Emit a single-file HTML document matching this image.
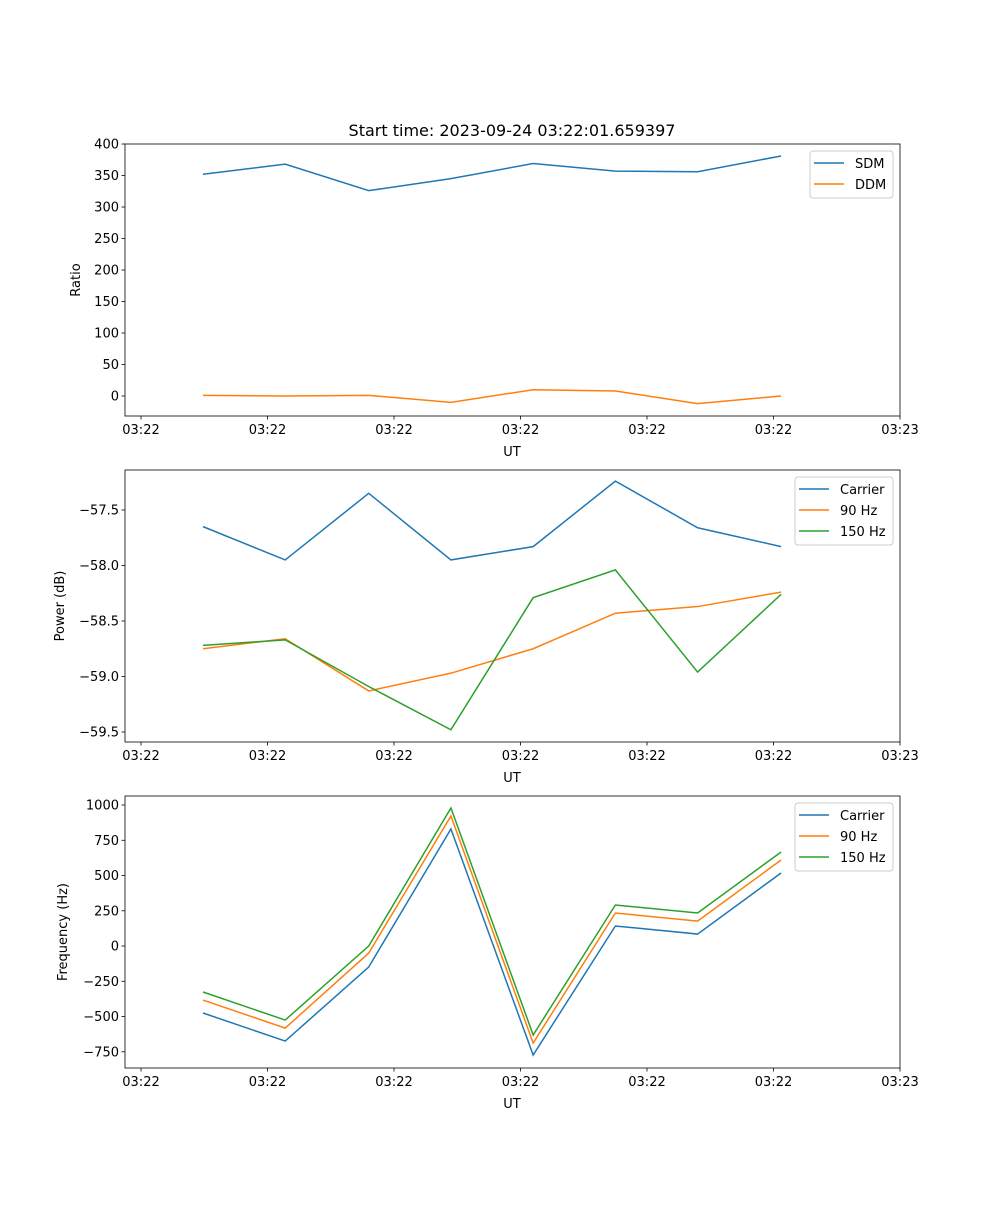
<!DOCTYPE html>
<html><head><meta charset="utf-8">
<style>
body{margin:0;background:#fff;}
svg text{font-family:"DejaVu Sans","Liberation Sans",sans-serif;fill:#000;}
</style></head>
<body>
<svg id="fig" width="1000" height="1200" xmlns="http://www.w3.org/2000/svg">
<rect width="1000" height="1200" fill="#fff"/>
<text x="512" y="136" font-size="16" text-anchor="middle">Start time: 2023-09-24 03:22:01.659397</text>
</svg>
<script>
const times = [4.9, 11.4, 18.0, 24.5, 31.0, 37.5, 44.0, 50.6];
const xTicks = [0,10,20,30,40,50,60];
const xTickLabels = ["03:22","03:22","03:22","03:22","03:22","03:22","03:23"];
const sdm = [352, 368, 326, 345, 369, 357, 356, 381];
const ddm = [1, 0, 1, -10, 10, 8, -12, 0];
const powCarrier = [-57.65,-57.95,-57.35,-57.95,-57.83,-57.24,-57.66,-57.83];
const pow90 = [-58.75,-58.66,-59.13,-58.97,-58.75,-58.43,-58.37,-58.24];
const pow150 = [-58.72,-58.67,-59.09,-59.48,-58.29,-58.04,-58.96,-58.26];
const freqCarrier = [-475,-674,-149,830,-773,142,85,518];
const freq90 = [-383,-582,-50,922,-688,234,177,610];
const freq150 = [-326,-525,0,979,-631,291,234,667];
const ratioTicks = [0,50,100,150,200,250,300,350,400];
const powTicks = [-59.5,-59.0,-58.5,-58.0,-57.5];
const powTickLabels = ["\u221259.5","\u221259.0","\u221258.5","\u221258.0","\u221257.5"];
const freqTicks = [-750,-500,-250,0,250,500,750,1000];
const freqTickLabels = ["\u2212750","\u2212500","\u2212250","0","250","500","750","1000"];

const NS="http://www.w3.org/2000/svg";
const svg=document.getElementById('fig');
const C=["#1f77b4","#ff7f0e","#2ca02c"];
function mk(t,a,p){const e=document.createElementNS(NS,t);for(const k in a)e.setAttribute(k,a[k]);(p||svg).appendChild(e);return e;}
const L=125,R=900;
function xs(t){return 141+(t-0)*(900-141)/60;}

function panel(name,top,bot,ymin,ymax,yt,ytl,ylabel,series,legend,leg){
  const g=mk('g',{});
  
  
  const ys=v=>bot-(v-ymin)*(bot-top)/(ymax-ymin);
  series.forEach((s,i)=>{
    const pl=mk('polyline',{points:s.map((v,j)=>xs(times[j])+','+ys(v)).join(' '),fill:'none',stroke:C[i],'stroke-width':1.5},g);
    
    
  });
  const fr=mk('rect',{x:L,y:top,width:R-L,height:bot-top,fill:'none',stroke:'#000','stroke-width':0.8},g);
  
  
  xTicks.forEach((t,i)=>{
    const x=xs(t);
    mk('line',{x1:x,x2:x,y1:bot,y2:bot+3.5,stroke:'#000','stroke-width':0.8},g);
    const tx=mk('text',{x:x,y:bot+18,'font-size':13,'text-anchor':'middle'},g);
    tx.textContent=xTickLabels[i];
    
    
  });
  yt.forEach((v,i)=>{
    const y=ys(v);
    mk('line',{x1:L-3.5,x2:L,y1:y,y2:y,stroke:'#000','stroke-width':0.8},g);
    const tx=mk('text',{x:L-6,y:y+4.5,'font-size':13,'text-anchor':'end'},g);
    tx.textContent=ytl[i];
    
    
  });
  const xl=mk('text',{x:512,y:bot+40,'font-size':13,'text-anchor':'middle'},g);
  xl.textContent='UT';
  
  
  const cy=(top+bot)/2;
  const yl=mk('text',{x:leg.yx,y:cy,'font-size':13,'text-anchor':'middle',transform:`rotate(-90 ${leg.yx} ${cy})`},g);
  yl.textContent=ylabel;
  
  
  const lg=mk('g',{},g);
  
  
  mk('rect',{x:leg.x,y:top+7,width:893-leg.x,height:legend.length*21+5,rx:3,fill:'#fff','fill-opacity':0.8,stroke:'#ccc','stroke-width':1},lg);
  legend.forEach((n,i)=>{
    const y=top+19+i*21;
    mk('line',{x1:leg.x+4,x2:leg.x+34,y1:y,y2:y,stroke:C[i],'stroke-width':1.5},lg);
    const tx=mk('text',{x:leg.x+45,y:y+5,'font-size':13},lg);
    tx.textContent=n;
    
    
  });
}
panel('ratio-panel',144,416,-31.7,400,ratioTicks,ratioTicks.map(String),'Ratio',[sdm,ddm],['SDM','DDM'],{x:810,yx:80});
panel('power-panel',470,742,-59.59,-57.14,powTicks,powTickLabels,'Power (dB)',[powCarrier,pow90,pow150],['Carrier','90 Hz','150 Hz'],{x:795,yx:64});
panel('frequency-panel',796,1068,-865,1064,freqTicks,freqTickLabels,'Frequency (Hz)',[freqCarrier,freq90,freq150],['Carrier','90 Hz','150 Hz'],{x:795,yx:67});
</script>
</body></html>
